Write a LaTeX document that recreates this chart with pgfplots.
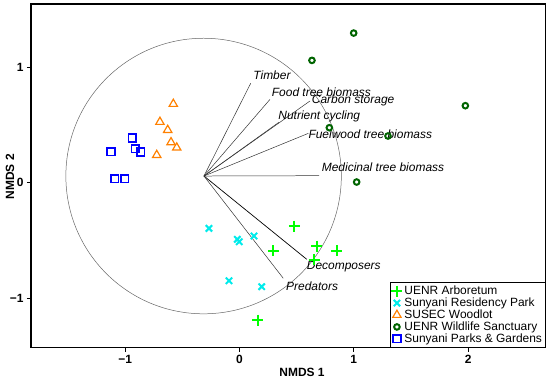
\documentclass[border=0pt]{standalone}
\usepackage{fontspec}
\setmainfont{Liberation Sans}
\usepackage{pgfplots}
\pgfplotsset{compat=1.18}
\definecolor{cplus}{RGB}{0,255,0}
\definecolor{ccross}{RGB}{0,235,235}
\definecolor{ctri}{RGB}{255,128,0}
\definecolor{ccirc}{RGB}{0,100,0}
\definecolor{csq}{RGB}{0,0,255}
\begin{document}
\begin{tikzpicture}[x=1bp,y=1bp]
\path[use as bounding box] (-31,-36.3) rectangle (519,347.7);
\begin{axis}[
  scale only axis, width=514.7bp, height=343.7bp,
  xmin=-1.824, xmax=2.679, ymin=-1.431, ymax=1.55,
  axis line style={line width=1.2pt},
  xtick={-1,0,1,2}, xticklabels={−1,0,1,2},
  ytick={-1,0,1}, yticklabels={−1,0,1},
  xtick pos=left, ytick pos=left, tick align=outside,
  major tick length=4bp,
  every tick/.style={line width=1pt, black},
  tick label style={font=\fontsize{12}{14}\selectfont\bfseries},
  clip=false,
  legend style={at={(rel axis cs:1,0)}, anchor=south east, draw=black, line width=1.1pt,
    font=\fontsize{12}{13}\selectfont, row sep=-2.2bp, inner sep=1.2bp,
    /tikz/every even column/.append style={column sep=1bp}},
  legend cell align=left,
]
% vectors and circle
\draw[gray!80!black, line width=0.5pt] (axis cs:-0.314,0.058) ellipse [x radius=1.205, y radius=1.195];
\addplot[black!80, line width=0.5pt, forget plot] coordinates {(-0.311,0.058) (0.098,0.862)};
\addplot[black!80, line width=0.5pt, forget plot] coordinates {(-0.311,0.058) (0.267,0.723)};
\addplot[black!80, line width=0.5pt, forget plot] coordinates {(-0.311,0.058) (0.617,0.709)};
\addplot[black!80, line width=0.5pt, forget plot] coordinates {(-0.311,0.058) (0.346,0.525)};
\addplot[black!80, line width=0.5pt, forget plot] coordinates {(-0.311,0.058) (0.602,0.428)};
\addplot[black!80, line width=0.5pt, forget plot] coordinates {(-0.311,0.058) (0.696,0.061)};
\addplot[black, line width=0.7pt, forget plot] coordinates {(-0.311,0.058) (0.588,-0.664)};
\addplot[black!80, line width=0.5pt, forget plot] coordinates {(-0.311,0.058) (0.383,-0.829)};
\begin{scope}[font=\fontsize{12}{14}\selectfont\itshape]
\node[anchor=west, inner sep=0] at (axis cs:0.12,0.934) {Timber};
\node[anchor=west, inner sep=0] at (axis cs:0.282,0.789) {Food tree biomass};
\node[anchor=west, inner sep=0] at (axis cs:0.632,0.711) {Carbon storage};
\node[anchor=west, inner sep=0] at (axis cs:0.339,0.578) {Nutrient cycling};
\node[anchor=west, inner sep=0] at (axis cs:0.602,0.422) {Fuelwood tree biomass};
\node[anchor=west, inner sep=0] at (axis cs:0.719,0.133) {Medicinal tree biomass};
\node[anchor=west, inner sep=0] at (axis cs:0.588,-0.729) {Decomposers};
\node[anchor=west, inner sep=0] at (axis cs:0.407,-0.902) {Predators};
\end{scope}
% points
\addplot[only marks, mark=+, mark size=5.5bp, cplus, line width=2pt] coordinates {
 (0.159,-1.191) (0.480,-0.376) (0.296,-0.592) (0.678,-0.549) (0.850,-0.592) (0.655,-0.670)};
\addlegendentry{UENR Arboretum}
\addplot[only marks, mark=x, mark size=4.5bp, ccross, line width=2pt] coordinates {
 (-0.267,-0.396) (-0.019,-0.491) (-0.002,-0.512) (0.127,-0.462) (-0.092,-0.850) (0.194,-0.902)};
\addlegendentry{Sunyani Residency Park}
\addplot[only marks, mark=triangle, mark size=4.8bp, ctri, line width=1.2pt] coordinates {
 (-0.579,0.683) (-0.696,0.527) (-0.628,0.457) (-0.599,0.350) (-0.549,0.304) (-0.724,0.240)};
\addlegendentry{SUSEC Woodlot}
\addplot[only marks, mark=o, mark size=2.8bp, ccirc, line width=2pt] coordinates {
 (0.999,1.298) (0.634,1.061) (1.976,0.668) (0.786,0.477) (1.299,0.405) (1.025,0.006)};
\addlegendentry{UENR Wildlife Sanctuary}
\addplot[only marks, mark=square, mark size=3.8bp, csq, line width=1.6pt] coordinates {
 (-1.124,0.269) (-0.938,0.388) (-0.912,0.295) (-0.864,0.266) (-1.092,0.035) (-1.004,0.035)};
\addlegendentry{Sunyani Parks \& Gardens}
\end{axis}
\node[font=\fontsize{12}{14}\selectfont\bfseries] at (271,-25) {NMDS 1};
\node[font=\fontsize{12}{14}\selectfont\bfseries, rotate=90] at (-21,171) {NMDS 2};
\end{tikzpicture}
\end{document}
